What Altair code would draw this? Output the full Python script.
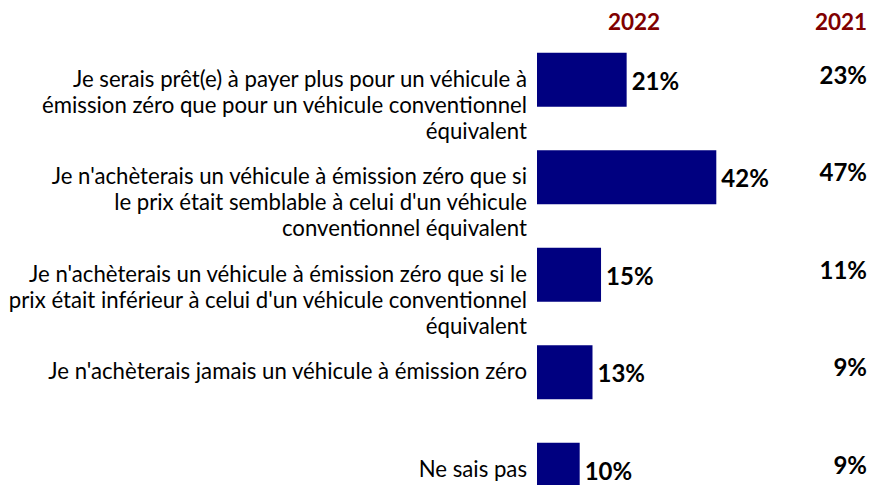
import altair as alt
import pandas as pd

categories = [
    "Je serais prêt(e) à payer plus pour un véhicule à\némission zéro que pour un véhicule conventionnel\néquivalent",
    "Je n'achèterais un véhicule à émission zéro que si\nle prix était semblable à celui d'un véhicule\nconventionnel équivalent",
    "Je n'achèterais un véhicule à émission zéro que si le\nprix était inférieur à celui d'un véhicule conventionnel\néquivalent",
    "Je n'achèterais jamais un véhicule à émission zéro",
    "Ne sais pas",
]
v2022 = [21, 42, 15, 13, 10]
v2021 = [23, 47, 11, 9, 9]
headers = ["2022", "2021"]

df = pd.DataFrame({
    "cat": categories,
    "v2022": v2022,
    "v2021": v2021,
    "l2022": [f"{v}%" for v in v2022],
    "l2021": [f"{v}%" for v in v2021],
})

FONT = "Lato"
W = 330
yenc = alt.Y("cat:N", sort=categories, axis=None,
             scale=alt.Scale(range=[0, 487.5], paddingInner=0.446, paddingOuter=0.223))
xscale = alt.Scale(domain=[0, 77.3])

base = alt.Chart(df)

bars = base.mark_bar(color="#000080").encode(
    y=yenc,
    x=alt.X("v2022:Q", scale=xscale, axis=None),
)

vals = base.mark_text(align="left", baseline="middle", dx=5, dy=3,
                      font=FONT, fontSize=24, fontWeight="bold", color="#000000").encode(
    y=yenc,
    x=alt.X("v2022:Q", scale=xscale, axis=None),
    text="l2022:N",
)

vals21 = base.mark_text(align="right", baseline="middle", dy=-3,
                        font=FONT, fontSize=24, fontWeight="bold", color="#000000").encode(
    y=yenc,
    x=alt.value(W),
    text="l2021:N",
)

labels = base.mark_text(align="right", baseline="middle", lineBreak="\n", lineHeight=26,
                        font=FONT, fontSize=22.2, color="#000000").encode(
    y=yenc,
    x=alt.value(-10),
    text="cat:N",
)

hdf = pd.DataFrame({"h": headers, "px": [97, 304]})
hdr = alt.Chart(hdf).mark_text(align="center", baseline="middle",
                               font=FONT, fontSize=22.5, fontWeight="bold", color="#800000").encode(
    x=alt.X("px:Q", scale=alt.Scale(domain=[0, W], range=[0, W]), axis=None),
    y=alt.value(-8),
    text="h:N",
)

chart = alt.layer(bars, vals, vals21, labels, hdr).resolve_scale(x="independent").properties(
    width=W, height=454,
    autosize=alt.AutoSizeParams(type="none"),
    padding={"left": 529, "top": 23, "right": 0, "bottom": 0},
).configure_view(stroke=None)

chart.save("out.html", embed_options={"renderer": "svg", "actions": False})
